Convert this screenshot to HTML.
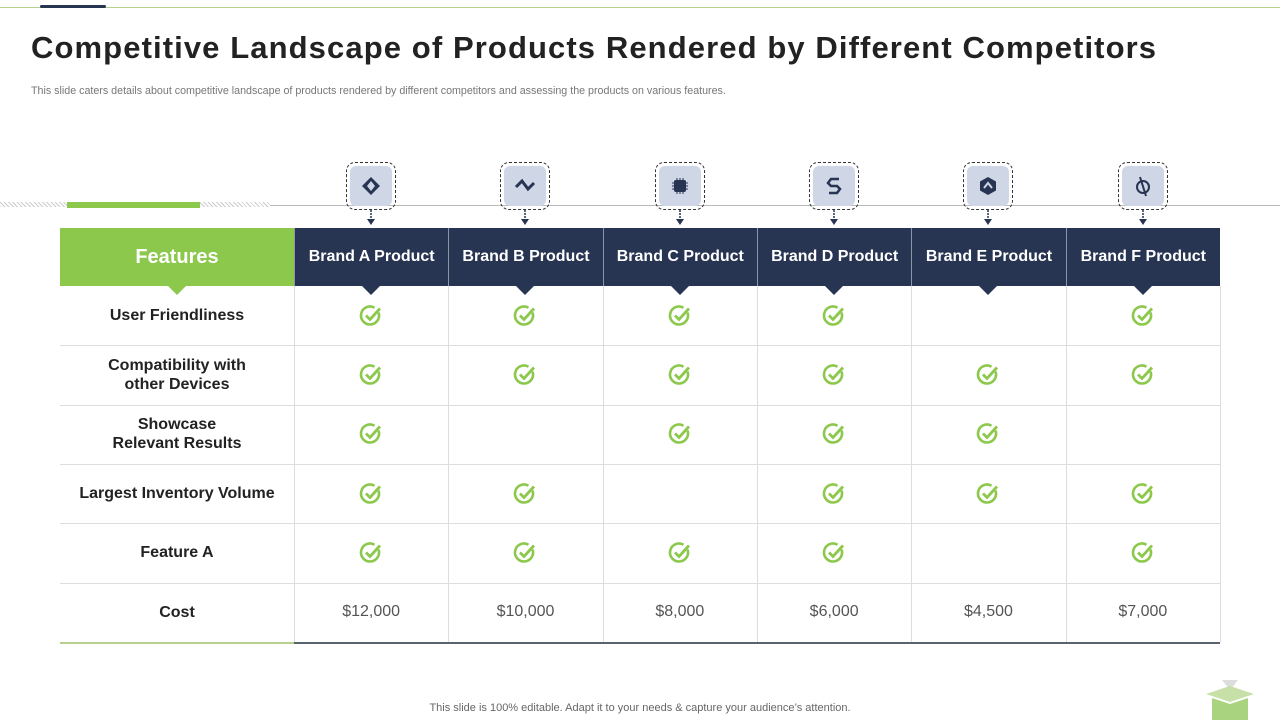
<!DOCTYPE html>
<html><head><meta charset="utf-8"><style>
html,body{margin:0;padding:0;}
body{width:1280px;height:720px;position:relative;overflow:hidden;background:#fff;font-family:"Liberation Sans",sans-serif;}
.abs{position:absolute;}
.title{left:31px;top:30px;font-size:31px;font-weight:bold;color:#222;letter-spacing:1.1px;white-space:nowrap;}
.sub{left:31px;top:85px;font-size:10.7px;color:#777;white-space:nowrap;}
.hdr{top:228px;height:58px;background:#273452;color:#fff;font-weight:bold;font-size:16px;display:flex;align-items:center;justify-content:center;box-sizing:border-box;border-left:1px solid #8b94a8;}
.feat{left:60px;top:228px;width:234px;height:58px;background:#8cc84b;color:#fff;font-size:20px;font-weight:bold;display:flex;align-items:center;justify-content:center;}
.tri{width:0;height:0;border-left:9px solid transparent;border-right:9px solid transparent;}
.lab{left:60px;width:234px;display:flex;align-items:center;justify-content:center;text-align:center;font-size:16px;font-weight:bold;color:#222;line-height:19px;}
.cell{display:flex;align-items:center;justify-content:center;font-size:16px;color:#555;}
.icon{width:50px;height:48px;box-sizing:border-box;border:1.5px dashed #333;border-radius:9px;padding:3px;}
.icon>div{width:100%;height:100%;background:#cfd6e6;border-radius:6px;display:flex;align-items:center;justify-content:center;}
</style></head><body>
<div class="abs" style="left:0;top:7px;width:1280px;height:1px;background:#b5d08f"></div>
<div class="abs" style="left:40px;top:5px;width:66px;height:3px;background:#273452;border-radius:2px"></div>
<div class="abs title">Competitive Landscape of Products Rendered by Different Competitors</div>
<div class="abs sub">This slide caters details about competitive landscape of products rendered by different competitors and assessing the products on various features.</div>
<div class="abs" style="left:0;top:202px;width:270px;height:5px;background:repeating-linear-gradient(45deg,#ccc 0 1px,#fff 1px 3px)"></div>
<div class="abs" style="left:67px;top:202px;width:133px;height:6px;background:#8cc84b"></div>
<div class="abs" style="left:270px;top:205px;width:1010px;height:1px;background:#bbb"></div>
<div class="abs feat">Features</div>
<div class="abs tri" style="left:168px;top:286px;border-top:9px solid #8cc84b"></div>
<div id="root"></div>
<div class="abs" style="left:0;width:1280px;top:702px;text-align:center;font-size:11px;color:#666">This slide is 100% editable. Adapt it to your needs &amp; capture your audience’s attention.</div>
<svg class="abs" style="left:1202px;top:680px" width="56" height="40" viewBox="0 0 56 40">
<path d="M20 0 L36 0 L28 10 Z" fill="#ddd"/>
<path d="M4 14 L28 6 L52 14 L28 22 Z" fill="#c7e0a8"/>
<path d="M10 18 L28 24 L46 18 L46 40 L10 40 Z" fill="#a9d37f"/>
</svg>
<script>
const brands=["Brand A Product","Brand B Product","Brand C Product","Brand D Product","Brand E Product","Brand F Product"];
const features=["User Friendliness","Compatibility with<br>other Devices","Showcase<br>Relevant Results","Largest Inventory Volume","Feature A"];
const checks=[[1,1,1,1,0,1],[1,1,1,1,1,1],[1,0,1,1,1,0],[1,1,0,1,1,1],[1,1,1,1,0,1]];
const costs=["$12,000","$10,000","$8,000","$6,000","$4,500","$7,000"];
const icons=[
'<path d="M11 2 L20 11 L11 20 L2 11Z M11 6 L7 11 L11 16 L15 11Z" fill="#273452"/>',
'<path d="M2 12 L8 6 L14 14 L20 8" stroke="#273452" stroke-width="3" fill="none"/>',
'<rect x="5" y="5" width="12" height="12" rx="2" fill="#273452"/><path d="M3 8h16M3 11h16M3 14h16M8 3v16M11 3v16M14 3v16" stroke="#273452" stroke-width="1"/>',
'<path d="M16 4 H8 L5 8 L8 11 H14 L17 14 L14 18 H6" stroke="#273452" stroke-width="2.5" fill="none"/>',
'<path d="M11 2 L19 6.5 V15.5 L11 20 L3 15.5 V6.5Z" fill="#273452"/><path d="M7 13 L11 8 L15 13" stroke="#cfd6e6" stroke-width="2" fill="none"/>',
'<circle cx="11" cy="12" r="6" stroke="#273452" stroke-width="2" fill="none"/><path d="M8 2 L14 21" stroke="#273452" stroke-width="2"/>'];
const root=document.getElementById('root');
const X0=294,CW=154.33,Y0=286,RH=59.3;
function colX(i){return X0+i*CW;}
function rowY(r){return Y0+r*RH;}
function add(html){const d=document.createElement('div');d.innerHTML=html;const el=d.firstElementChild;root.appendChild(el);return el;}
const checkSvg='<svg width="24" height="24" viewBox="0 0 24 24"><path d="M19.5 8.5 A9 9 0 1 1 15.5 3.7" stroke="#8cc84b" stroke-width="2.6" fill="none"/><path d="M7 11.5 L11 15.5 L21 4.5" stroke="#8cc84b" stroke-width="2.8" fill="none"/></svg>';
brands.forEach((b,i)=>{
  const cx=colX(i)+CW/2;
  let h=add(`<div class="abs hdr" style="left:${colX(i)}px;width:${CW}px">${b}</div>`);
  
  
  let t=add(`<div class="abs tri" style="left:${cx-9}px;top:286px;border-top:9px solid #273452"></div>`);
  
  
  let ic=add(`<div class="abs icon" style="left:${cx-25}px;top:162px"><div><svg width="22" height="22" viewBox="0 0 22 22">${icons[i]}</svg></div></div>`);
  
  
  let ar=add(`<svg class="abs" style="left:${cx-5}px;top:210px" width="10" height="16"><line x1="5" y1="0" x2="5" y2="10" stroke="#273452" stroke-width="1.5" stroke-dasharray="2 1"/><path d="M1 9 L9 9 L5 15Z" fill="#273452"/></svg>`);
  
  
});
const nRows=features.length+1;
for(let r=0;r<nRows;r++){
  const y=rowY(r);
  const lbl=r<features.length?features[r]:"Cost";
  let l=add(`<div class="abs lab" style="top:${y}px;height:${RH}px">${lbl}</div>`);
  
  
  if(r<nRows-1){
    let ln=add(`<div class="abs" style="left:60px;top:${rowY(r+1)}px;width:1160px;height:1px;background:#ddd"></div>`);
    
    
  }
  for(let c=0;c<brands.length;c++){
    let content=r<features.length?(checks[r][c]?checkSvg:''):costs[c];
    let cell=add(`<div class="abs cell" style="left:${colX(c)}px;top:${y}px;width:${CW}px;height:${RH}px">${content}</div>`);
    
    
  }
}
const bottom=rowY(nRows);
for(let c=0;c<=brands.length;c++){
  let v=add(`<div class="abs" style="left:${colX(c)}px;top:286px;width:1px;height:${bottom-286}px;background:#ddd"></div>`);
  
  
}
let bg=add(`<div class="abs" style="left:60px;top:${bottom}px;width:234px;height:2px;background:#b5d08f"></div>`);


let bd=add(`<div class="abs" style="left:294px;top:${bottom}px;width:926px;height:2px;background:#5a6270"></div>`);


</script>
</body></html>
